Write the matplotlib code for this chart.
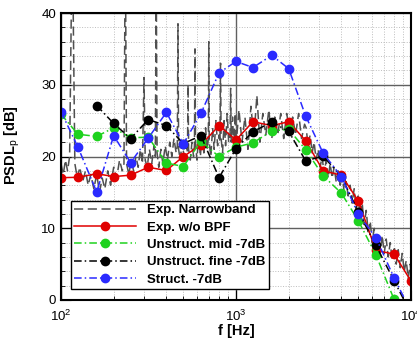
import matplotlib
matplotlib.use("Agg")
import matplotlib.pyplot as plt
from matplotlib.ticker import MultipleLocator, LogLocator, NullFormatter

plt.rcParams["font.family"] = "Liberation Sans"
plt.rcParams["mathtext.fontset"] = "custom"
plt.rcParams["mathtext.rm"] = "Liberation Sans"
plt.rcParams["mathtext.bf"] = "Liberation Sans:bold"

# 1/3-octave band centres (Hz)
bands = [100, 125, 160, 200, 250, 315, 400, 500, 630, 800, 1000,
         1250, 1600, 2000, 2500, 3150, 4000, 5000, 6300, 8000, 10000]

exp_bpf = [17.05, 17.1, 17.6, 17.2, 17.4, 18.5, 18.05, 20.0, 21.6, 24.3, 22.3,
           24.85, 24.3, 24.85, 22.2, 18.0, 17.4, 13.8, 6.9, 6.4, 2.65]
unstruct_mid = [25.9, 23.1, 22.8, 24.0, 22.6, 22.7, 19.1, 18.6, 22.1, 20.0, 21.3,
                21.9, 23.55, 23.8, 20.95, 17.3, 14.9, 11.05, 6.3, 0.1]
unstruct_fine = [27.1, 24.6, 22.5, 25.15, 24.3, 21.8, 22.9, 17.05, 21.1, 23.45,
                 24.8, 23.5, 19.4, 20.05, 17.2, 12.3, 7.6, 2.7, -1.9]
struct = [26.25, 21.3, 15.05, 22.9, 19.15, 22.55, 26.15, 21.75, 26.0, 31.65, 33.25,
          32.4, 34.1, 32.25, 25.65, 20.45, 17.2, 11.95, 8.7, 3.1, -1.6]

# narrowband spectrum
nb_freq = [100, 103, 106, 109, 112, 116, 120, 124, 128, 133,
           138, 143, 148, 154, 160, 166, 172, 178, 185, 192,
           200, 208, 216, 224, 229, 233, 237, 244, 252, 260,
           268, 276, 284, 292, 298, 303, 311, 320, 330, 340,
           346, 350, 354, 362, 372, 382, 394, 406, 418, 430,
           442, 455, 462, 466, 470, 480, 492, 505, 518, 528,
           532, 536, 548, 560, 572, 579, 583, 587, 598, 612,
           626, 640, 655, 670, 685, 695, 699, 703, 718, 735,
           750, 768, 785, 800, 810, 816, 822, 838, 855, 872,
           890, 908, 925, 932, 939, 955, 972, 990,
           1000, 1040, 1082, 1125, 1170, 1217, 1265, 1316, 1369, 1423,
           1480, 1540, 1601, 1665, 1732, 1801, 1873, 1948, 2026, 2107,
           2191, 2279, 2370, 2465,
           2516, 2583, 2652, 2723, 2795, 2870, 2947, 3025, 3106, 3189,
           3274, 3362, 3451, 3543, 3638, 3735, 3835, 3937, 4042, 4150,
           4261, 4375, 4492, 4611, 4735, 4861, 4991, 5124, 5261, 5401,
           5546, 5694, 5846, 6002, 6162, 6326, 6495, 6669, 6847, 7029,
           7217, 7410, 7607, 7810, 8019, 8233, 8453, 8679, 8911, 9148,
           9393, 9643, 9901, 10000]
nb_level = [19, 17.5, 19.5, 18, 20, 52, 19, 17, 18.5, 16.5,
            18, 16, 17.5, 15.5, 17.5, 15, 17, 15.5, 18, 16,
            18.5, 17, 19.5, 18, 19, 50, 19, 17.5, 19.5, 18,
            20, 18.5, 21, 19, 31, 19.5, 18.5, 21, 19, 21.5,
            20, 46, 20.5, 18.5, 21, 19, 21.5, 19.5, 22, 20,
            22.5, 20.5, 21.5, 38.5, 21, 19.5, 22, 20, 22.5, 20.5,
            30, 21, 19.5, 22, 20, 21.5, 35, 22, 19.5, 23,
            20, 23.5, 20.5, 24, 21, 22.5, 36, 22, 20, 24,
            21, 25, 21.5, 23, 22, 33, 22.5, 20.5, 25, 21.5,
            26, 22, 23, 29.5, 22, 25.5, 21.5, 26,
            21.5, 26.5, 22, 25.5, 21, 27, 22.5, 28.5, 22, 26,
            23, 26.5, 22.5, 25.5, 23, 26, 22.5, 26, 23.5, 25.5,
            23, 26, 22.5, 24.5,
            24, 21.5, 23, 20.5, 22, 19.5, 21, 18.5, 20, 17.5,
            19.5, 17, 19, 17, 18.5, 16.5, 18, 16, 17.5, 15,
            16.5, 14.5, 16, 13.5, 15.5, 12.5, 14.5, 11.5, 13.5, 10.5,
            12.5, 9.5, 11, 8, 10, 7, 9, 6.5, 9, 6.5,
            8.5, 6, 8, 5.5, 7.5, 5, 7, 4.5, 6.5, 4,
            5.5, 3, 5, 3.5]

fig = plt.figure(figsize=(4.17, 3.38), dpi=100)
ax = fig.add_axes([61 / 417, 38 / 338, 350 / 417, 287 / 338])

ax.plot(nb_freq, nb_level, color="#505050", lw=1.1, ls=(0, (6, 3)),
        label="Exp. Narrowband")
ax.plot(bands, exp_bpf, color="#e00000", lw=1.1, ls="-", marker="o", ms=6,
        label="Exp. w/o BPF")
ax.plot(bands[:len(unstruct_mid)], unstruct_mid, color="#1ed21e", lw=1.1,
        ls=(0, (5, 2, 1, 2)), marker="o", ms=6, label="Unstruct. mid -7dB")
ax.plot(bands[2:2 + len(unstruct_fine)], unstruct_fine, color="black", lw=1.1,
        ls=(0, (5, 2, 1, 2)), marker="o", ms=6, label="Unstruct. fine -7dB")
ax.plot(bands, struct, color="#2a2aff", lw=1.1, ls=(0, (5, 2, 1, 2)),
        marker="o", ms=6, label="Struct. -7dB")

ax.set_xscale("log")
ax.set_xlim(100, 10000)
ax.set_ylim(0, 40)
ax.yaxis.set_major_locator(MultipleLocator(10))
ax.yaxis.set_minor_locator(MultipleLocator(2))
ax.xaxis.set_minor_locator(LogLocator(subs=range(2, 10)))
ax.xaxis.set_minor_formatter(NullFormatter())

ax.set_axisbelow(True)
ax.grid(which="major", color="#606060", lw=1.0, ls="-")
ax.grid(which="minor", color="#bdbdbd", lw=0.7, ls=":")
ax.tick_params(which="both", direction="in", labelsize=9.5, colors="black")
ax.tick_params(which="major", length=7)
ax.tick_params(which="minor", length=3)
ax.tick_params(axis="x", which="major", pad=6)
for s in ax.spines.values():
    s.set_linewidth(1.5)

ax.set_xlabel("f [Hz]", fontsize=10.5, fontweight="bold", labelpad=0)
ax.set_ylabel(r"PSDL$_{\rm p}$ [dB]", fontsize=10.5, fontweight="bold")
ax.yaxis.set_label_coords(-0.11, 0.54)

leg = ax.legend(loc="lower left", bbox_to_anchor=(0.0286, 0.038),
                borderaxespad=0, prop={"weight": "bold", "size": 9.5},
                fancybox=False, framealpha=1, edgecolor="black",
                handlelength=4.7, handletextpad=0.8, borderpad=0.25,
                labelspacing=0.39)
leg.get_frame().set_linewidth(1.0)

fig.savefig("out.png", dpi=100)
